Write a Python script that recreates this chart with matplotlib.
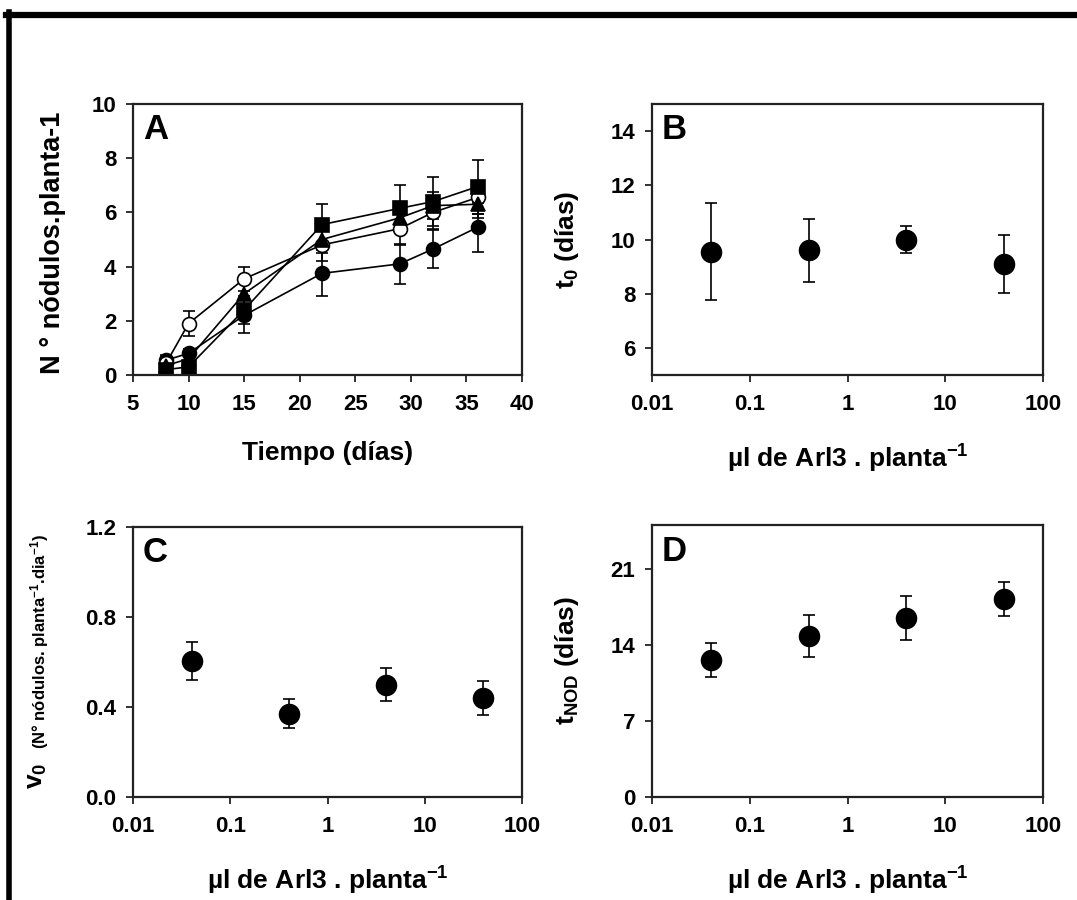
import matplotlib

matplotlib.use("Agg")
import matplotlib.pyplot as plt
from matplotlib.lines import Line2D
from matplotlib.ticker import NullLocator

plt.rcParams["font.family"] = ["Liberation Sans", "DejaVu Sans"]
plt.rcParams["font.weight"] = "bold"
plt.rcParams["mathtext.fontset"] = "custom"
plt.rcParams["mathtext.rm"] = "Liberation Sans:bold"
plt.rcParams["mathtext.it"] = "Liberation Sans:bold"
plt.rcParams["mathtext.bf"] = "Liberation Sans:bold"
plt.rcParams["mathtext.default"] = "rm"

# --- panel A: nodules per plant over time, four doses ---
days = [8, 10, 15, 22, 29, 32, 36]
nod_circle = [0.55, 0.8, 2.2, 3.75, 4.1, 4.65, 5.45]
nod_circle_err = [0.2, 0.15, 0.65, 0.85, 0.75, 0.7, 0.9]
nod_open = [0.45, 1.9, 3.55, 4.8, 5.4, 6.0, 6.55]
nod_open_err = [0.15, 0.45, 0.45, 0.6, 0.6, 0.6, 0.6]
nod_triangle = [0.35, 0.6, 3.0, 5.0, 5.8, 6.25, 6.3]
nod_triangle_err = [0.15, 0.2, 0.5, 0.5, 0.5, 0.5, 0.5]
nod_square = [0.2, 0.3, 2.4, 5.55, 6.15, 6.4, 6.95]
nod_square_err = [0.15, 0.15, 0.5, 0.75, 0.85, 0.9, 1.0]

# --- panels B-D: fitted parameters vs dose ---
dose = [0.04, 0.4, 4, 40]
t0 = [9.55, 9.6, 10.0, 9.1]
t0_err = [1.8, 1.15, 0.5, 1.08]
v0 = [0.605, 0.37, 0.50, 0.44]
v0_err = [0.085, 0.065, 0.075, 0.075]
tnod = [12.6, 14.8, 16.45, 18.2]
tnod_err = [1.55, 1.9, 2.05, 1.6]

log_ticks = [0.01, 0.1, 1, 10, 100]
log_labels = ["0.01", "0.1", "1", "10", "100"]

W, H = 1077, 900
fig = plt.figure(figsize=(W / 100, H / 100), dpi=100)


def px_axes(left, top, right, bottom):
    return fig.add_axes([left / W, 1 - bottom / H, (right - left) / W, (bottom - top) / H])


def style(ax, letter):
    for sp in ax.spines.values():
        sp.set_linewidth(1.6)
        sp.set_color("#222222")
    ax.tick_params(direction="out", length=5, width=1.3, labelsize=16,
                   top=False, right=False, color="#222222")
    ax.tick_params(axis="x", pad=9)
    ax.tick_params(axis="y", pad=7)
    ax.text(0.025, 0.965, letter, transform=ax.transAxes, ha="left", va="top",
            fontsize=25, fontweight="bold")


def dose_axes(ax):
    ax.set_xscale("log")
    ax.set_xlim(0.01, 100)
    ax.set_xticks(log_ticks)
    ax.set_xticklabels(log_labels)
    ax.xaxis.set_minor_locator(NullLocator())
    ax.set_xlabel(r"µl de Arl3 . planta$^{-1}$", fontsize=19, fontweight="bold")
    ax.xaxis.set_label_coords(0.5, -0.25)


eb = dict(color="black", capsize=4, elinewidth=1.2, capthick=1.2)

# A
axA = px_axes(133, 104, 522, 375)
series = [
    (nod_circle, nod_circle_err, "o", "black"),
    (nod_open, nod_open_err, "o", "white"),
    (nod_triangle, nod_triangle_err, "^", "black"),
    (nod_square, nod_square_err, "s", "black"),
]
for vals, errs, mk, face in series:
    axA.errorbar(days, vals, yerr=errs, fmt="-" + mk, ms=10, mfc=face, mec="black",
                 mew=1.2, lw=1.2, **eb)
axA.set_xlim(5, 40)
axA.set_ylim(0, 10)
axA.set_xticks(range(5, 41, 5))
axA.set_yticks(range(0, 11, 2))
axA.set_xlabel("Tiempo (días)", fontsize=19, fontweight="bold")
axA.xaxis.set_label_coords(0.5, -0.245)
style(axA, "A")
fig.text(53 / W, 1 - 243 / H, "N ° nódulos.planta-1", rotation=90, ha="center",
         va="center", fontsize=19.5, fontweight="bold")

# B
axB = px_axes(652, 104, 1043, 375)
axB.errorbar(dose, t0, yerr=t0_err, fmt="o", ms=14.5, **eb)
dose_axes(axB)
axB.set_ylim(5, 15)
axB.set_yticks(range(6, 15, 2))
style(axB, "B")
fig.text(567 / W, 1 - 240 / H, r"t$_0$ (días)", rotation=90, ha="center",
         va="center", fontsize=19, fontweight="bold")

# C
axC = px_axes(133, 527, 522, 797)
axC.errorbar(dose, v0, yerr=v0_err, fmt="o", ms=14.5, **eb)
dose_axes(axC)
axC.set_ylim(0, 1.2)
axC.set_yticks([0.0, 0.4, 0.8, 1.2])
axC.set_yticklabels(["0.0", "0.4", "0.8", "1.2"])
style(axC, "C")
fig.text(37 / W, 1 - 776 / H, r"v$_0$", rotation=90, ha="center",
         va="center", fontsize=19, fontweight="bold")
fig.text(40 / W, 1 - 642 / H, r"(N° nódulos. planta$^{-1}$.dia$^{-1}$)", rotation=90,
         ha="center", va="center", fontsize=12, fontweight="bold")

# D
axD = px_axes(652, 525, 1043, 797)
axD.errorbar(dose, tnod, yerr=tnod_err, fmt="o", ms=14.5, **eb)
dose_axes(axD)
axD.set_ylim(0, 25)
axD.set_yticks([0, 7, 14, 21])
style(axD, "D")
fig.text(567 / W, 1 - 660 / H, r"t$_{NOD}$ (días)", rotation=90, ha="center",
         va="center", fontsize=19, fontweight="bold")

# frame of the cropped figure box (top and left edges only)
fig.add_artist(Line2D([6 / W, 1], [1 - 15 / H, 1 - 15 / H], color="black", lw=4.5,
                      transform=fig.transFigure))
fig.add_artist(Line2D([8.5 / W, 8.5 / W], [0, 1 - 12 / H], color="black", lw=4,
                      transform=fig.transFigure))

fig.savefig("out.png", dpi=100, facecolor="white")
